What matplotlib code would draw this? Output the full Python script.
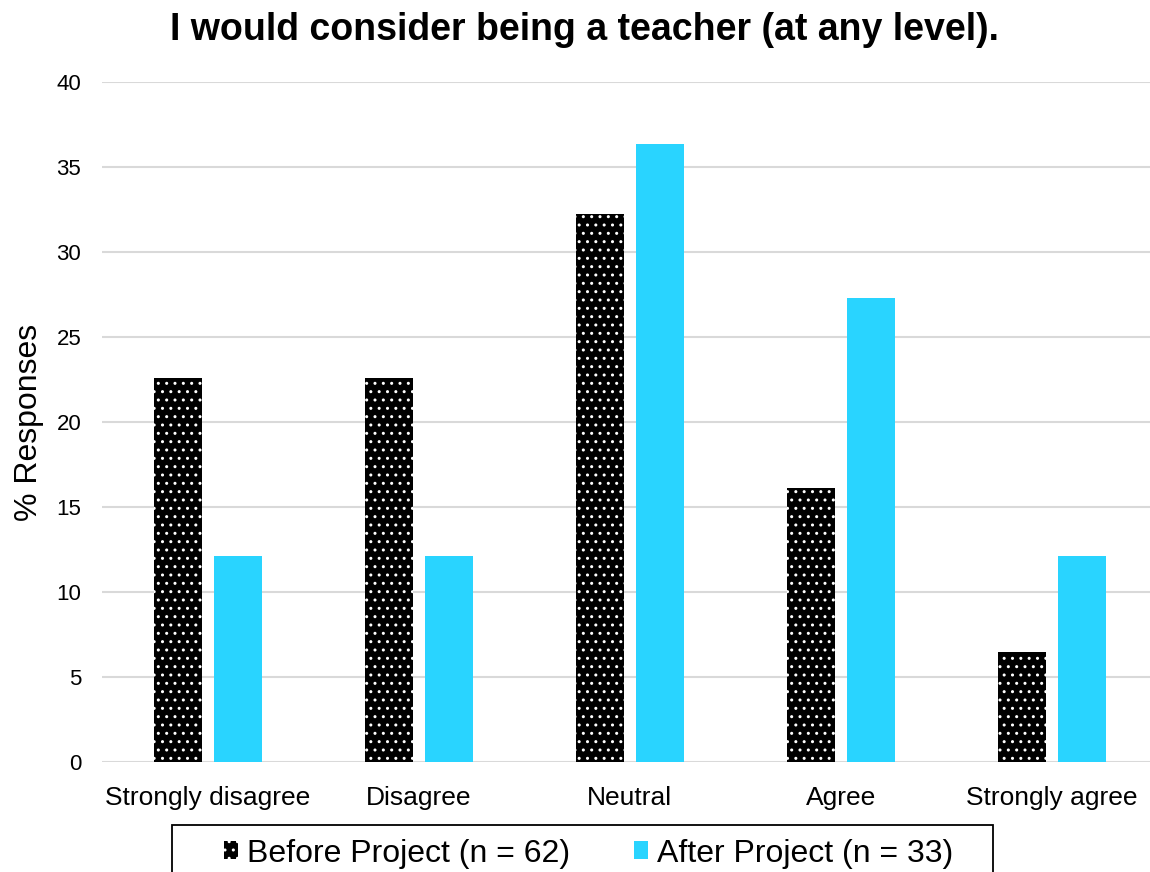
import numpy as np
import matplotlib.pyplot as plt
from matplotlib.patches import Rectangle
from matplotlib import font_manager

plt.rcParams['font.family'] = ['Liberation Sans', 'DejaVu Sans']

# survey data (% responses)
categories = ['Strongly disagree', 'Disagree', 'Neutral', 'Agree', 'Strongly agree']
before = [22.58, 22.58, 32.26, 16.13, 6.45]
after = [12.12, 12.12, 36.36, 27.27, 12.12]
series_labels = ['Before Project (n = 62)', 'After Project (n = 33)']
y_ticks = [0, 5, 10, 15, 20, 25, 30, 35, 40]

cyan = '#29D4FF'

# narrow face for the legend if it is around
names = {f.name for f in font_manager.fontManager.ttflist}
leg_family = 'Liberation Sans Narrow' if 'Liberation Sans Narrow' in names else 'Liberation Sans'
leg_size = 27 if leg_family == 'Liberation Sans Narrow' else 23

fig = plt.figure(figsize=(11.5, 8.72), dpi=100)
ax = fig.add_axes([0.0887, 0.1261, 0.918, 0.7799])

x = np.arange(len(categories))
w = 0.227
off = 0.142

b1 = ax.bar(x - off, before, w, color='black', edgecolor='white',
            hatch='..', linewidth=0, label=series_labels[0], zorder=3)
b2 = ax.bar(x + off, after, w, color=cyan, linewidth=0,
            label=series_labels[1], zorder=3)

ax.set_xlim(-0.5, len(categories) - 0.5)
ax.set_ylim(0, 40)
ax.set_yticks(y_ticks)
ax.set_xticks(x)
ax.set_xticklabels(categories, fontsize=19)
ax.tick_params(axis='y', labelsize=16, length=0, pad=15)
ax.tick_params(axis='x', length=0, pad=17)
ax.grid(axis='y', color='#d9d9d9', linewidth=1.5, zorder=0)
for s in ax.spines.values():
    s.set_visible(False)

ax.set_ylabel('% Responses', fontsize=23, labelpad=9)
fig.text(0.508, 1 - 40 / 872, 'I would consider being a teacher (at any level).',
         fontsize=27, fontweight='bold', ha='center', va='baseline')

# legend box, runs off the bottom edge like the original
fig.patches.append(Rectangle((172 / 1150, -0.02), 821 / 1150, 0.02 + 47 / 872,
                             transform=fig.transFigure, fill=False,
                             edgecolor='black', linewidth=1.3))
leg = fig.legend(handles=[b1, b2], loc='center', bbox_to_anchor=(0.512, 0.021),
                 ncol=2, frameon=False, prop={'family': leg_family, 'size': leg_size},
                 handlelength=0.42, handleheight=0.5, handletextpad=0.3,
                 columnspacing=2.0, borderpad=0)

fig.savefig('out.png', dpi=100)
